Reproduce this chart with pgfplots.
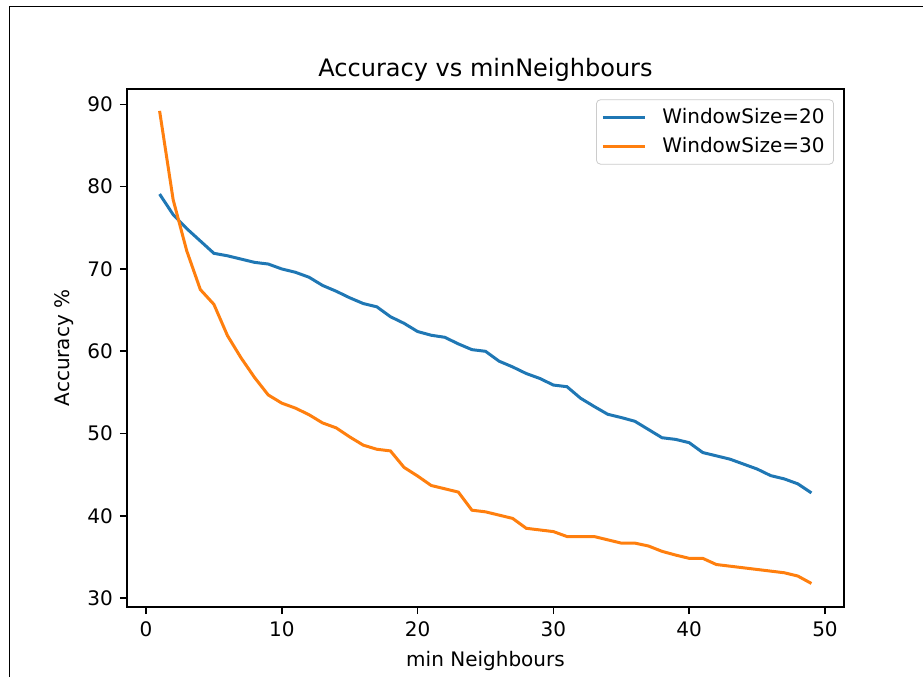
\documentclass[border=0pt]{standalone}
\usepackage{fontspec}
\setmainfont{DejaVu Sans}
\usepackage{pgfplots}
\pgfplotsset{compat=1.18}
\definecolor{tabblue}{HTML}{1F77B4}
\definecolor{taborange}{HTML}{FF7F0E}
\begin{document}
\begin{tikzpicture}
\useasboundingbox (0pt,0pt) rectangle (461.5pt,338.5pt);
\draw[line width=0.85pt, black] (4.75pt,0pt) -- (4.75pt,335.25pt) -- (461.5pt,335.25pt);
\begin{axis}[
  at={(63.5pt,35pt)}, anchor=south west,
  scale only axis, width=358.5pt, height=259pt,
  xmin=-1.4, xmax=51.4, ymin=28.94, ymax=91.86,
  xtick={0,10,20,30,40,50}, ytick={30,40,50,60,70,80,90},
  tick pos=left, tick align=outside,
  major tick length=3.5pt,
  every tick/.style={black, line width=0.8pt},
  axis line style={line width=0.8pt},
  /pgf/number format/assume math mode=true,
  tick label style={font=\fontsize{10}{12}\selectfont},
  xticklabel style={yshift=-0.5pt},
  label style={font=\fontsize{10}{12}\selectfont},
  title style={font=\fontsize{12}{14.4}\selectfont, yshift=-6pt},
  title={Accuracy vs minNeighbours},
  xlabel={min Neighbours}, ylabel={Accuracy \%},
  legend style={at={(rel axis cs:0.986,0.98)}, anchor=north east,
    draw=black!20, rounded corners=2pt, fill=white, fill opacity=0.8, text opacity=1,
    font=\fontsize{10}{12}\selectfont, inner sep=2.5pt, row sep=1pt},
  legend cell align=left,
  legend image code/.code={\draw[#1] (0pt,0pt) -- (21pt,0pt); \path (27pt,0pt);},
]
\addplot[tabblue, line width=1.5pt] coordinates {
(1,79.1)(2,76.6)(3,74.9)(4,73.4)(5,71.9)(6,71.6)(7,71.2)(8,70.8)(9,70.6)(10,70.0)
(11,69.6)(12,69.0)(13,68.0)(14,67.3)(15,66.5)(16,65.8)(17,65.4)(18,64.2)(19,63.4)(20,62.4)
(21,61.95)(22,61.7)(23,60.9)(24,60.2)(25,60.0)(26,58.8)(27,58.1)(28,57.3)(29,56.7)(30,55.9)
(31,55.7)(32,54.3)(33,53.3)(34,52.35)(35,51.95)(36,51.5)(37,50.5)(38,49.5)(39,49.3)(40,48.9)
(41,47.7)(42,47.3)(43,46.9)(44,46.3)(45,45.7)(46,44.9)(47,44.5)(48,43.9)(49,42.8)
};
\addlegendentry{WindowSize=20}
\addplot[taborange, line width=1.5pt] coordinates {
(1,89.2)(2,78.4)(3,72.2)(4,67.5)(5,65.7)(6,61.9)(7,59.2)(8,56.8)(9,54.7)(10,53.7)
(11,53.1)(12,52.3)(13,51.3)(14,50.7)(15,49.6)(16,48.6)(17,48.1)(18,47.9)(19,45.9)(20,44.85)
(21,43.7)(22,43.3)(23,42.9)(24,40.7)(25,40.5)(26,40.1)(27,39.7)(28,38.5)(29,38.3)(30,38.1)
(31,37.5)(32,37.5)(33,37.5)(34,37.1)(35,36.7)(36,36.7)(37,36.35)(38,35.7)(39,35.25)(40,34.85)
(41,34.85)(42,34.1)(43,33.9)(44,33.7)(45,33.5)(46,33.3)(47,33.1)(48,32.7)(49,31.8)
};
\addlegendentry{WindowSize=30}
\end{axis}
\end{tikzpicture}
\end{document}
